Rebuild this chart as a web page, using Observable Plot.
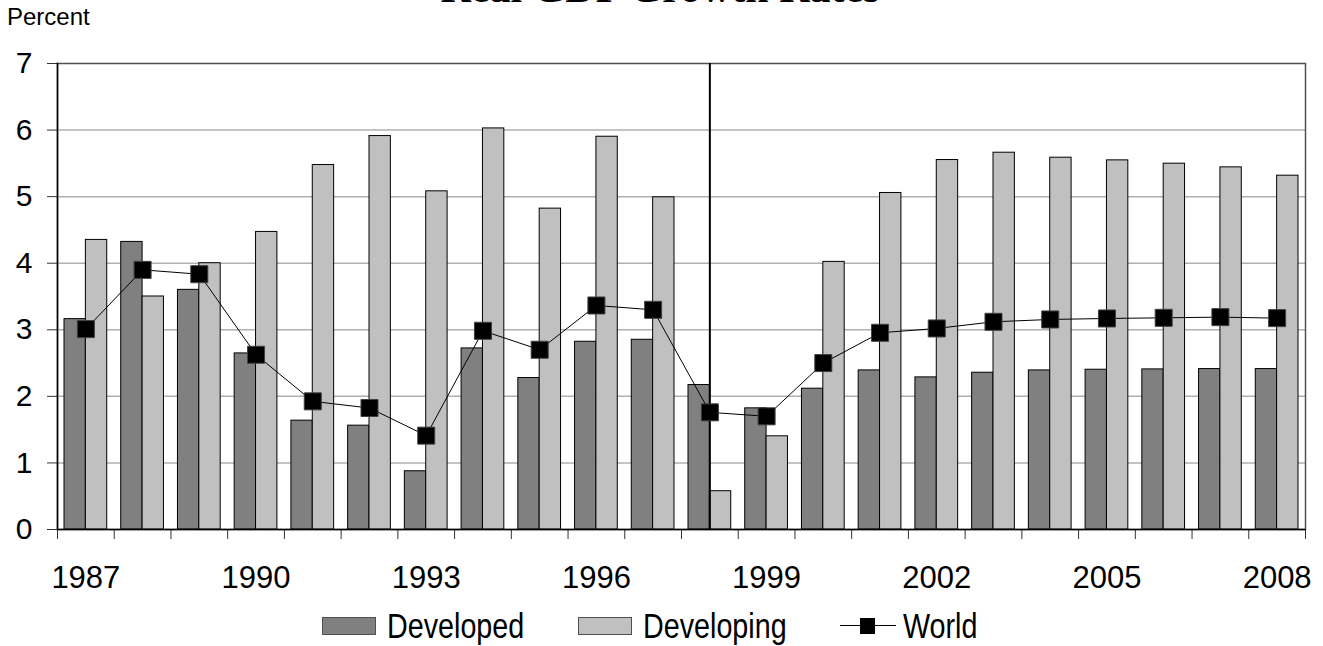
<!DOCTYPE html>
<html>
<head>
<meta charset="utf-8">
<script src="https://cdn.jsdelivr.net/npm/d3@7"></script>
<script src="https://cdn.jsdelivr.net/npm/@observablehq/plot@0.6"></script>
<style>
  html, body { margin: 0; padding: 0; background: #fff; }
  #wrap { position: relative; width: 1323px; height: 646px; overflow: hidden; font-family: "Liberation Sans", Arial, sans-serif; }
  #header { position: relative; height: 40px; }
  #title { position: absolute; left: 0; width: 1320px; top: -33px; text-align: center; font-family: "Liberation Serif", "Times New Roman", serif; font-weight: bold; font-size: 42px; line-height: 42px; color: #000; white-space: nowrap; }
  #unit { position: absolute; left: 7px; top: 5px; font-size: 24px; line-height: 24px; color: #000; }
  #legend { position: relative; height: 41px; }
  .sw { position: absolute; box-sizing: border-box; }
  .lt { position: absolute; font-size: 35px; line-height: 35px; transform: scaleX(0.82); transform-origin: left center; color: #000; white-space: nowrap; }
</style>
</head>
<body>
<div id="wrap">
  <div id="header"><div id="title">Real GDP Growth Rates</div><div id="unit">Percent</div></div>
  <div id="chart"></div>
  <div id="legend"></div>
</div>
<script>
const years = [1987,1988,1989,1990,1991,1992,1993,1994,1995,1996,1997,1998,1999,2000,2001,2002,2003,2004,2005,2006,2007,2008];
const developed = [3.16,4.32,3.6,2.645,1.635,1.56,0.875,2.72,2.275,2.82,2.85,2.17,1.82,2.115,2.39,2.285,2.355,2.39,2.4,2.405,2.41,2.41];
const developing = [4.35,3.5,4.0,4.47,5.475,5.91,5.08,6.025,4.82,5.9,4.99,0.575,1.4,4.02,5.055,5.55,5.66,5.585,5.545,5.495,5.44,5.315];
const world = [3.01,3.9,3.835,2.625,1.925,1.825,1.41,2.985,2.7,3.365,3.3,1.76,1.7,2.5,2.955,3.02,3.12,3.155,3.17,3.18,3.19,3.175];
const labelYears = [1987,1990,1993,1996,1999,2002,2005,2008];
const yTicks = [0,1,2,3,4,5,6,7];
const gridTicks = [1,2,3,4,5,6];
const markerYear = 1998;

const rows = years.map((y, i) => ({year: y, developed: developed[i], developing: developing[i], world: world[i]}));

const W = 1323, H = 565;
const mL = 57, mR = 18, mT = 23, mB = 76;
const bw = (W - mL - mR) / years.length;
const pad = 7;

const chart = Plot.plot({
  width: W, height: H,
  marginLeft: mL, marginRight: mR, marginTop: mT, marginBottom: mB,
  style: {fontFamily: "'Liberation Sans', Arial, sans-serif", background: "white", color: "black"},
  x: {type: "band", domain: years, padding: 0, round: false, axis: null},
  y: {domain: [0, 7], axis: null},
  marks: [
    Plot.ruleY(gridTicks, {stroke: "#b0b0b0", strokeWidth: 1.5}),
    Plot.frame({stroke: "#505050", strokeWidth: 1.5}),
    Plot.barY(rows, {x: "year", y: "developed", fill: "#808080", stroke: "#000", strokeWidth: 1, insetLeft: pad, insetRight: bw / 2}),
    Plot.barY(rows, {x: "year", y: "developing", fill: "#c0c0c0", stroke: "#000", strokeWidth: 1, insetLeft: bw / 2, insetRight: pad}),
    Plot.ruleX([markerYear], {stroke: "#000", strokeWidth: 2}),
    Plot.lineY(rows, {x: "year", y: "world", stroke: "#000", strokeWidth: 1}),
    Plot.dot(rows, {x: "year", y: "world", symbol: "square", r: 9.6, fill: "#000", stroke: "#404040", strokeWidth: 1}),
    Plot.ruleY([0], {stroke: "#000", strokeWidth: 1.5}),
    Plot.frame({anchor: "left", stroke: "#000", strokeWidth: 1.5}),
    Plot.axisY({ticks: yTicks, tickSize: 10, tickPadding: 15, fontSize: 30, tickFormat: d => String(d), label: null, stroke: "#000", strokeOpacity: 0.8}),
    Plot.axisX({ticks: years, tickSize: 10, tickFormat: () => "", label: null, dx: -bw / 2, stroke: "#000", strokeOpacity: 0.8}),
    Plot.axisX({ticks: [years[years.length - 1]], tickSize: 10, tickFormat: () => "", label: null, dx: bw / 2, stroke: "#000", strokeOpacity: 0.8}),
    Plot.axisX({ticks: labelYears, tickSize: 0, tickPadding: 36, fontSize: 31, label: null, tickFormat: d => String(d)})
  ]
});
document.getElementById("chart").appendChild(chart);

// legend
const legend = document.getElementById("legend");
const items = [
  {kind: "bar", fill: "#808080", label: "Developed", sx: 322, tx: 387},
  {kind: "bar", fill: "#c0c0c0", label: "Developing", sx: 578, tx: 643},
  {kind: "line", label: "World", sx: 840, tx: 903}
];
items.forEach(it => {
  if (it.kind === "bar") {
    const s = document.createElement("div");
    s.className = "sw";
    s.style.cssText = `left:${it.sx}px;top:12px;width:54px;height:18px;background:${it.fill};border:1.5px solid #505050;`;
    legend.appendChild(s);
  } else {
    const l = document.createElement("div");
    l.className = "sw";
    l.style.cssText = `left:${it.sx}px;top:20px;width:56px;height:0;border-top:1.5px solid #000;`;
    legend.appendChild(l);
    const m = document.createElement("div");
    m.className = "sw";
    m.style.cssText = `left:${it.sx + 20}px;top:13px;width:15px;height:16px;background:#000;`;
    legend.appendChild(m);
  }
  const t = document.createElement("div");
  t.className = "lt";
  t.style.left = it.tx + "px";
  t.style.top = "3px";
  t.textContent = it.label;
  legend.appendChild(t);
});
</script>
</body>
</html>
